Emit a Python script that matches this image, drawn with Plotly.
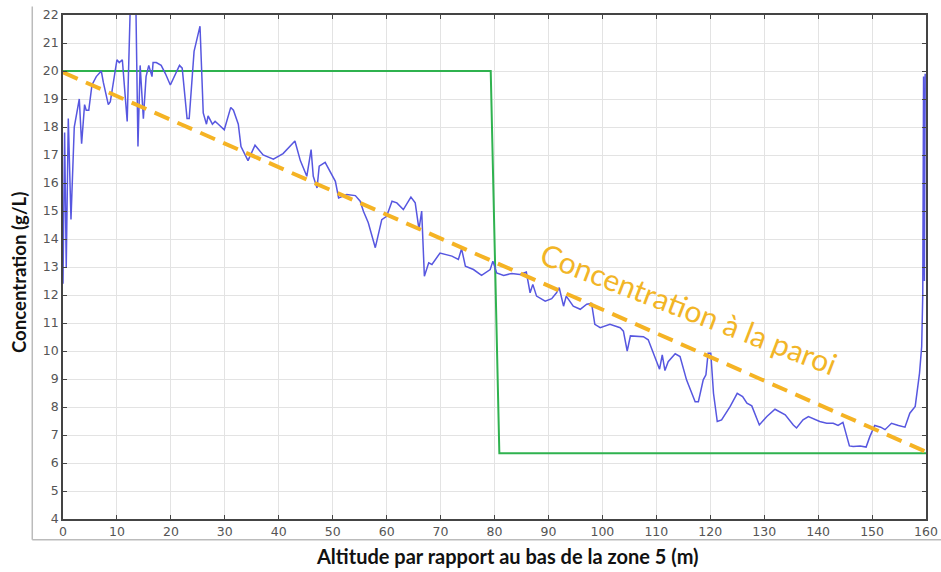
import plotly.graph_objects as go

# Blue measured curve
alt = [0.0, 0.3, 0.6, 0.98, 1.48, 2.09, 3.02, 3.45, 4.0, 4.3, 4.78, 5.37, 6.17, 7.1, 7.47,
       8.4, 8.77, 9.1, 10.0, 10.43, 11.0, 11.9, 12.5, 13.0, 13.5, 13.9, 14.3, 14.9, 15.4,
       15.9, 16.5, 16.7, 17.3, 18.2, 19.0, 19.9, 20.6, 21.6, 22.1, 23.0, 23.4, 24.3, 25.4,
       26.0, 26.6, 26.9, 27.7, 28.2, 28.8, 29.9, 31.1, 31.6, 32.5, 33.0, 34.3, 35.6, 37.1,
       39.0, 40.8, 41.8, 43.0, 44.0, 45.2, 46.0, 46.4, 47.1, 47.5, 48.6, 49.5, 50.5, 51.1,
       52.6, 54.2, 55.1, 55.7, 56.6, 57.9, 59.1, 60.0, 61.0, 61.9, 63.1, 64.5, 65.3, 66.0,
       66.5, 67.0, 67.8, 68.4, 69.9, 72.1, 73.3, 73.9, 74.6, 76.1, 77.6, 79.2, 79.7, 80.4,
       81.7, 83.2, 84.7, 85.9, 86.6, 87.1, 87.8, 89.4, 90.6, 91.5, 92.0, 92.8, 93.3, 94.6,
       95.9, 97.1, 98.0, 98.6, 99.6, 101.4, 103.3, 103.9, 104.6, 105.2, 107.6, 108.5, 109.8,
       110.6, 111.1, 111.6, 112.2, 113.5, 114.4, 115.6, 117.2, 117.8, 118.7, 119.2, 119.6,
       120.1, 120.6, 121.3, 122.1, 123.7, 125.0, 126.0, 126.8, 127.7, 129.1, 130.5, 132.0,
       133.9, 135.4, 136.0, 137.2, 138.2, 140.3, 141.6, 142.8, 143.7, 144.6, 145.3, 145.8,
       146.5, 147.8, 148.9, 149.6, 150.5, 151.6, 152.4, 153.6, 154.9, 156.1, 157.0, 158.0,
       158.8, 159.2, 159.4, 159.55, 159.7, 159.85]
conc = [12.4, 17.8, 13.0, 18.3, 14.7, 18.0, 19.0, 17.4, 18.8, 18.6, 18.6, 19.5, 19.8, 20.0, 19.6,
        18.8, 18.9, 19.3, 20.4, 20.3, 20.4, 18.2, 22.5, 23.5, 22.5, 17.3, 20.2, 18.3, 19.8,
        20.2, 19.8, 20.3, 20.3, 20.2, 19.9, 19.5, 19.8, 20.2, 20.1, 18.3, 18.3, 20.7, 21.6,
        18.5, 18.1, 18.4, 18.1, 18.2, 18.1, 17.9, 18.7, 18.6, 18.1, 17.3, 16.8, 17.35, 17.0,
        16.85, 17.05, 17.25, 17.5, 16.8, 16.24, 17.19, 16.24, 15.82, 16.6, 16.74, 16.42, 16.06, 15.47,
        15.59, 15.55, 15.35, 14.99, 14.58, 13.69, 14.69, 14.81, 15.35, 15.29, 15.05, 15.5, 15.29, 14.34,
        15.0, 12.67, 13.15, 13.09, 13.5, 13.39, 13.27, 13.65, 13.03, 12.91, 12.7, 12.91, 13.21, 12.79,
        12.7, 12.77, 12.73, 12.82, 12.08, 12.38, 11.96, 11.78, 11.87, 12.08, 12.26, 11.6, 11.96, 11.6,
        11.49, 11.67, 11.7, 10.95, 10.83, 10.95, 10.83, 10.71, 10.0, 10.54, 10.51, 10.4, 9.74,
        9.35, 9.86, 9.3, 9.62, 9.9, 9.8, 8.97, 8.19, 8.19, 8.97, 9.15, 9.92,
        9.92, 8.49, 7.48, 7.54, 8.02, 8.49, 8.37, 8.14, 8.04, 7.36, 7.66, 7.92,
        7.72, 7.36, 7.25, 7.54, 7.66, 7.48, 7.42, 7.42, 7.34, 7.45, 6.95, 6.61,
        6.59, 6.61, 6.57, 6.95, 7.34, 7.28, 7.19, 7.42, 7.34, 7.28, 7.78, 8.02,
        9.21, 10.16, 12.0, 19.8, 12.5, 19.9]

# Green step profile
step_alt = [0, 79.3, 80.9, 160]
step_conc = [20.0, 20.0, 6.35, 6.35]

# Orange wall concentration (dashed)
wall_alt = [0, 160]
wall_conc = [19.95, 6.4]

x_ticks = list(range(0, 161, 10))
y_ticks = list(range(4, 23, 1))

fig = go.Figure()
fig.add_trace(go.Scatter(x=step_alt, y=step_conc, mode="lines",
                         line=dict(color="#2fb24f", width=2), hoverinfo="skip"))
fig.add_trace(go.Scatter(x=alt, y=conc, mode="lines",
                         line=dict(color="#5757e0", width=1.5)))
fig.add_trace(go.Scatter(x=wall_alt, y=wall_conc, mode="lines",
                         line=dict(color="#f5b324", width=4, dash="16px,9px")))

axis_common = dict(showgrid=True, gridcolor="#e3e3e3", gridwidth=1,
                   showline=True, linecolor="#444", linewidth=1.5,
                   mirror="allticks", ticks="inside", ticklen=4, tickcolor="#444",
                   tickfont=dict(family="DejaVu Sans", size=12.5, color="#555"),
                   ticklabeloverflow="allow",
                   zeroline=False, automargin=False)

fig.update_xaxes(range=[0, 160], tickvals=x_ticks, **axis_common)
fig.update_yaxes(range=[4, 22], tickvals=y_ticks, **axis_common)

fig.add_annotation(x=116.0, y=11.55, xref="x", yref="y", text="Concentration à la paroi",
                   showarrow=False, textangle=21,
                   font=dict(family="Lato", size=30, color="#f2b526"))
fig.add_annotation(x=0.515, y=-0.0727, xref="paper", yref="paper",
                   text="<b>Altitude par rapport au bas de la zone 5 (m)</b>",
                   showarrow=False, xanchor="center", yanchor="middle",
                   font=dict(family="Lato", size=20, color="#111"))
fig.add_annotation(x=-0.051, y=0.49, xref="paper", yref="paper",
                   text="<b>Concentration (g/L)</b>", textangle=-90,
                   showarrow=False, xanchor="center", yanchor="middle",
                   font=dict(family="Lato", size=18.6, color="#111"))

# light outer frame
fig.add_shape(type="line", xref="paper", yref="paper", x0=-0.0356, x1=-0.0356, y0=1.017, y1=-0.041,
              line=dict(color="#bbbbbb", width=1.5))
fig.add_shape(type="line", xref="paper", yref="paper", x0=-0.0356, x1=1.03, y0=-0.041, y1=-0.041,
              line=dict(color="#bbbbbb", width=1.5))

fig.update_layout(width=941, height=572, showlegend=False,
                  margin=dict(l=63, r=15, t=15, b=53, autoexpand=False),
                  paper_bgcolor="white", plot_bgcolor="white")

# remove the default page margin so the figure fills the window exactly
fig.write_html("out.html", config={"displayModeBar": False},
               post_script="document.body.style.margin='0';document.body.style.overflow='hidden';")
